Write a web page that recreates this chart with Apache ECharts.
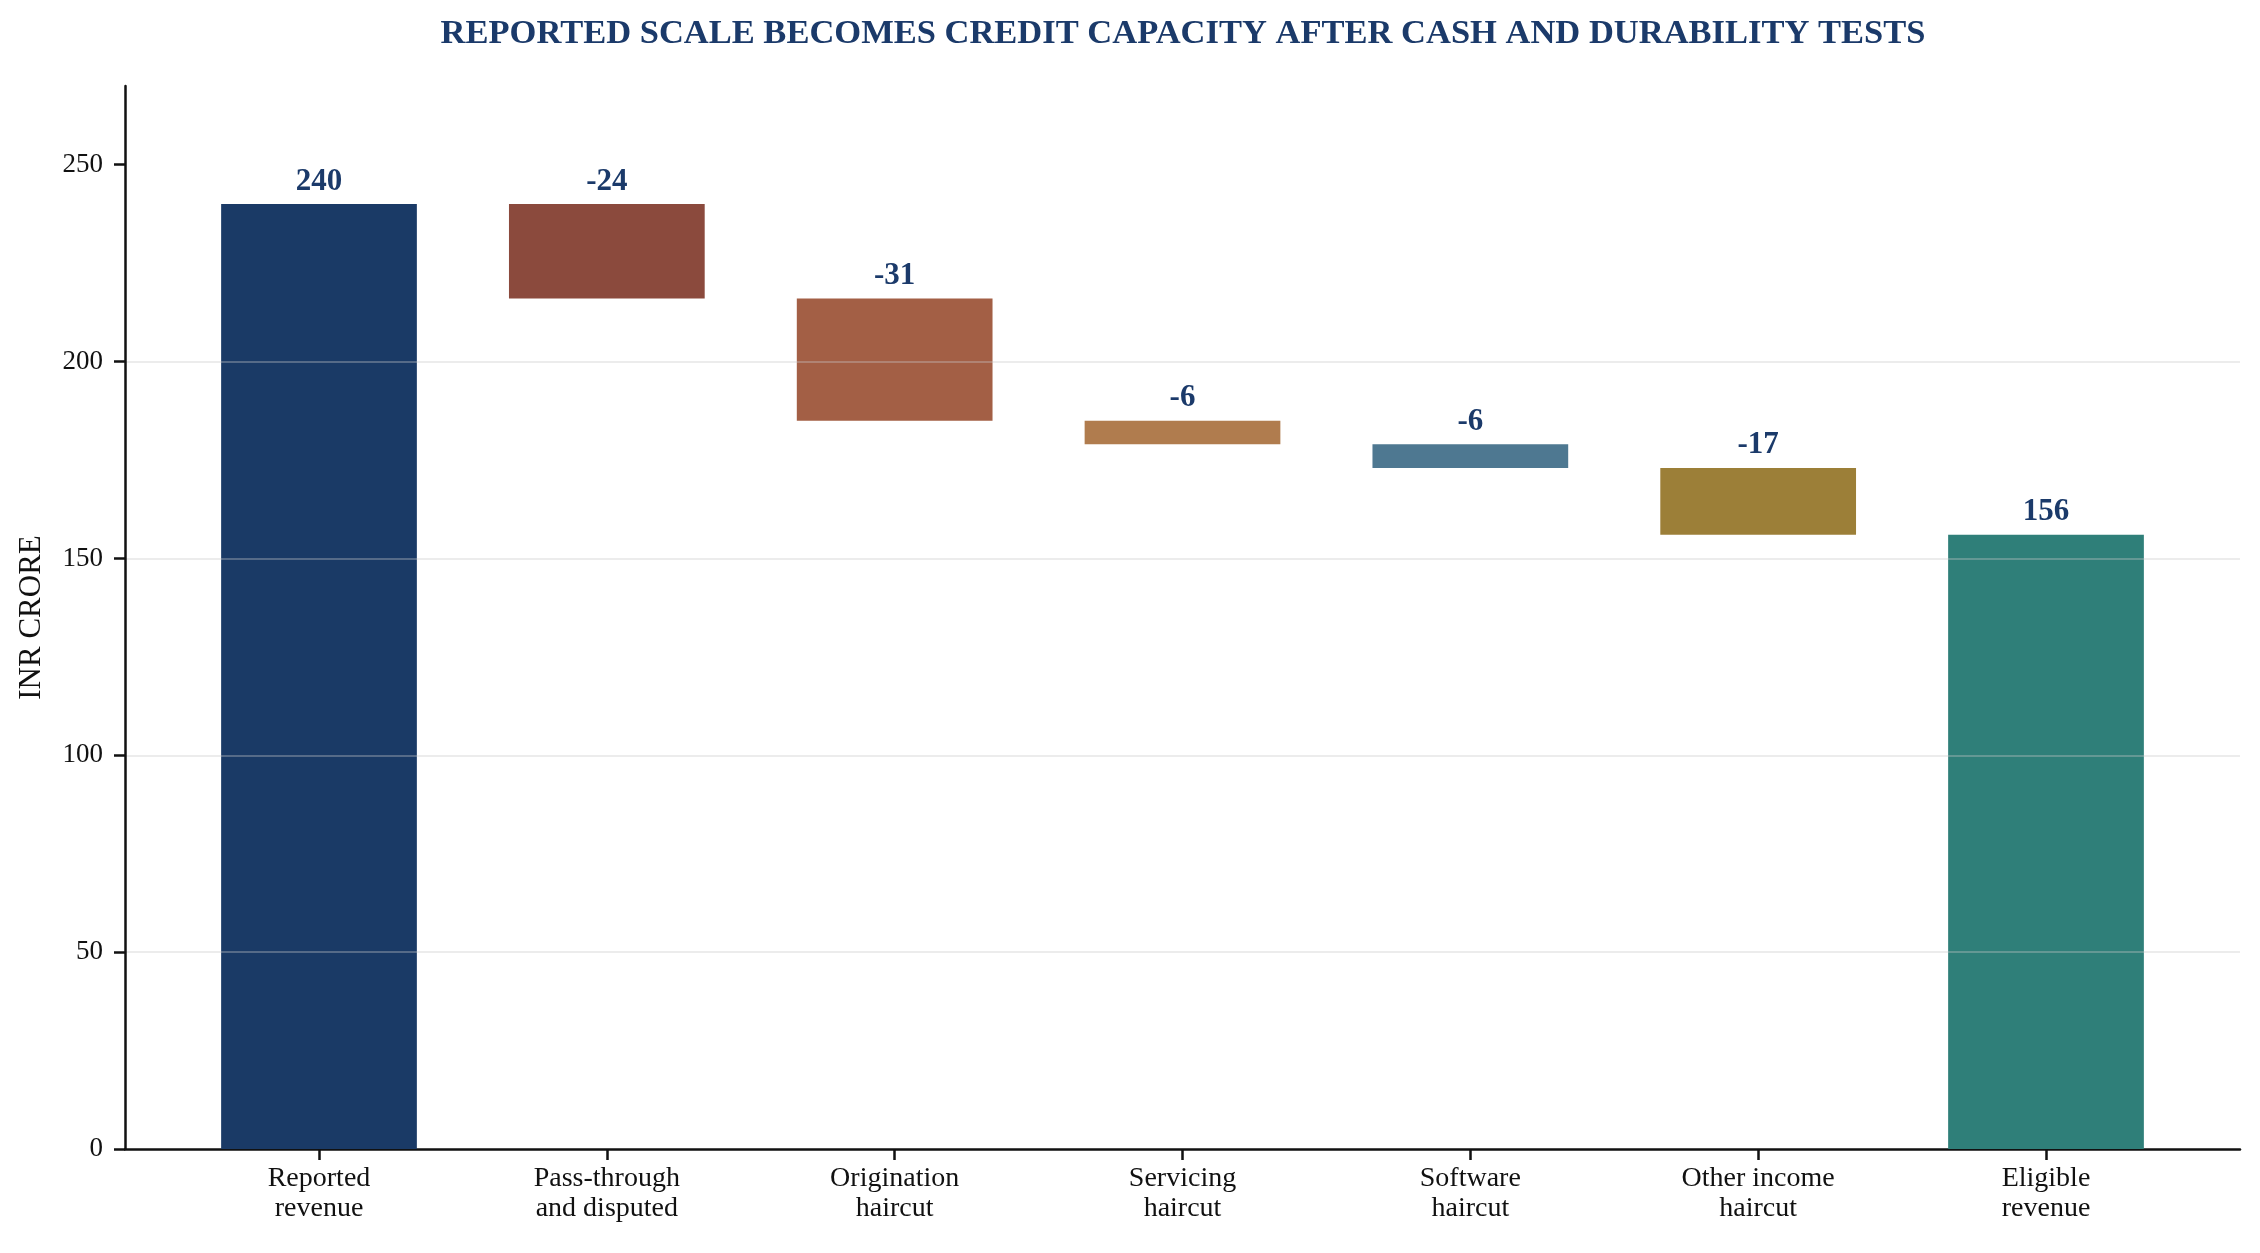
<!DOCTYPE html>
<html>
<head>
<meta charset="utf-8">
<title>Reported scale to credit capacity</title>
<script src="https://cdn.jsdelivr.net/npm/echarts@6/dist/echarts.min.js"></script>
<style>
  html, body { margin: 0; padding: 0; background: #fff; }
  #chart { width: 2260px; height: 1253px; }
</style>
</head>
<body>
<div id="chart"></div>
<script>
// waterfall steps, INR crore (first and last are totals)
var categories = [
  'Reported\nrevenue', 'Pass-through\nand disputed', 'Origination\nhaircut',
  'Servicing\nhaircut', 'Software\nhaircut', 'Other income\nhaircut', 'Eligible\nrevenue'
];
var steps = [240, -24, -31, -6, -6, -17, 156];
var isTotal = [true, false, false, false, false, false, true];
var barColors = ['#1a3a66', '#8b4a3d', '#a35f45', '#b07c4e', '#4e7891', '#9c7f38', '#2f7f79'];
var yTicks = [0, 50, 100, 150, 200, 250];

var NAVY = '#1b3a6a';
var FONT = '"Liberation Serif", "DejaVu Serif", serif';
var BAR_W = 0.68;

// each bar as [index, low, high]
var barData = [];
var running = 0;
steps.forEach(function (v, i) {
  if (isTotal[i]) {
    barData.push([i, 0, v]);
    running = v;
  } else {
    barData.push([i, running + v, running]);
    running += v;
  }
});

var catIdx = categories.map(function (c, i) { return i; });

function renderBar(params, api) {
  var i = api.value(0);
  var top = api.coord([i, api.value(2)]);
  var bot = api.coord([i, api.value(1)]);
  var w = api.size([BAR_W, 0])[0];
  return {
    type: 'rect',
    shape: { x: top[0] - w / 2, y: top[1], width: w, height: bot[1] - top[1] },
    style: { fill: barColors[i] },
    textContent: {
      style: {
        text: String(steps[i]),
        fontFamily: FONT, fontSize: 31, fontWeight: 'bold', fill: NAVY
      }
    },
    textConfig: { position: 'top', distance: 7 }
  };
}

var myChart = echarts.init(document.getElementById('chart'));
myChart.setOption({
  backgroundColor: '#fff',
  animation: false,
  title: {
    text: 'REPORTED SCALE BECOMES CREDIT CAPACITY AFTER CASH AND DURABILITY TESTS',
    left: 1178,
    textAlign: 'center',
    top: 12,
    textStyle: { fontFamily: FONT, fontSize: 34.5, fontWeight: 'bold', color: NAVY }
  },
  grid: { left: 125, right: 20, top: 86, bottom: 104 },
  xAxis: {
    type: 'value',
    min: -0.674,
    max: 6.674,
    splitLine: { show: false },
    axisLine: { show: true, lineStyle: { color: '#111', width: 2.5 } },
    axisTick: { show: true, customValues: catIdx, length: 11, lineStyle: { color: '#111', width: 2.5 } },
    axisLabel: {
      customValues: catIdx,
      margin: 15,
      fontFamily: FONT, fontSize: 28, color: '#111', lineHeight: 30,
      formatter: function (v) { return categories[Math.round(v)]; }
    }
  },
  yAxis: {
    type: 'value',
    min: 0,
    max: 270,
    interval: 50,
    z: 5,
    name: 'INR CRORE',
    nameLocation: 'middle',
    nameGap: 78,
    nameTextStyle: { fontFamily: FONT, fontSize: 31, color: '#111' },
    axisLine: { show: true, onZero: false, lineStyle: { color: '#111', width: 2.5 } },
    axisTick: { show: true, customValues: yTicks, length: 11, lineStyle: { color: '#111', width: 2.5 } },
    axisLabel: { customValues: yTicks, margin: 22, fontFamily: FONT, fontSize: 27, color: '#111' },
    splitLine: {
      show: true, showMinLine: false, showMaxLine: false,
      lineStyle: { color: 'rgba(200,200,200,0.35)', width: 2 }
    }
  },
  series: [
    {
      type: 'custom',
      renderItem: renderBar,
      encode: { x: 0, y: [1, 2] },
      data: barData
    }
  ]
});
</script>
</body>
</html>
